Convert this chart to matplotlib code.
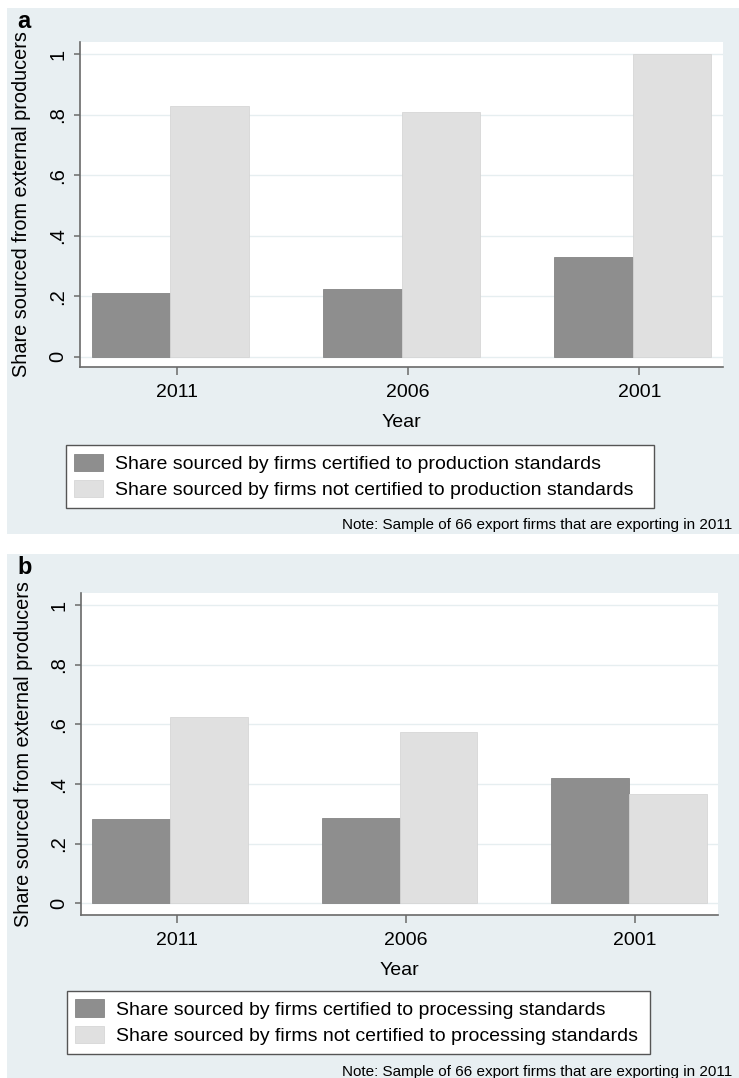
import matplotlib
matplotlib.use("Agg")
import matplotlib.pyplot as plt
import matplotlib.patches as patches
import numpy as np

years = ["2011", "2006", "2001"]
prod_certified = [0.21, 0.223, 0.331]
prod_not_certified = [0.829, 0.81, 1.0]
proc_certified = [0.282, 0.288, 0.419]
proc_not_certified = [0.626, 0.575, 0.366]
y_ticks = [0, 0.2, 0.4, 0.6, 0.8, 1.0]
y_tick_labels = ["0", ".2", ".4", ".6", ".8", "1"]
note = "Note: Sample of 66 export firms that are exporting in 2011"

plt.rcParams["font.family"] = ["Liberation Sans", "DejaVu Sans"]

W, H = 739, 1078
BG = "#e8eff2"
DARK = "#8e8e8e"
LIGHT = "#e0e0e0"
AXIS = "#6a6a6a"


def fx(px):
    return px / W


def fy(py):
    return 1 - py / H


def draw_panel(fig, letter, bg_box, ax_box, ylim, cert, not_cert, kind, legend_box, note_y):
    # panel background (Stata-like light blue-grey)
    x0, y0, x1, y1 = bg_box
    fig.add_artist(patches.Rectangle((fx(x0), fy(y1)), fx(x1 - x0), (y1 - y0) / H,
                                     transform=fig.transFigure, facecolor=BG,
                                     edgecolor="none", zorder=0))
    fig.text(fx(17), fy(y0 + 20), letter, fontsize=17, fontweight="bold",
             ha="left", va="baseline")

    l, t, r, b = ax_box
    ax = fig.add_axes([fx(l), fy(b), fx(r - l), (b - t) / H])
    ax.set_facecolor("white")

    x = np.arange(len(years))
    width = 0.34
    ax.bar(x - width / 2, cert, width, color=DARK, edgecolor="#858585", linewidth=0.6,
           label=f"Share sourced by firms certified to {kind} standards", zorder=3)
    ax.bar(x + width / 2, not_cert, width, color=LIGHT, edgecolor="#d6d6d6", linewidth=0.6,
           label=f"Share sourced by firms not certified to {kind} standards", zorder=3)

    ax.set_xlim(-0.39, 2.39)
    ax.set_ylim(*ylim)
    ax.set_xticks(x + 0.028)
    ax.set_xticklabels(years, fontsize=14)
    ax.set_yticks(y_ticks)
    ax.set_yticklabels(y_tick_labels, fontsize=14.5, rotation=90, va="center")
    ax.grid(axis="y", color="#e6eef0", linewidth=1.0, zorder=0)
    ax.set_axisbelow(True)

    for side in ["top", "right"]:
        ax.spines[side].set_visible(False)
    for side in ["left", "bottom"]:
        ax.spines[side].set_color(AXIS)
        ax.spines[side].set_linewidth(1.2)
    ax.tick_params(axis="y", length=4, width=1.1, color=AXIS, pad=5)
    ax.tick_params(axis="x", length=6, width=1.1, color=AXIS, pad=6)

    ax.set_ylabel("Share sourced from external producers", fontsize=14.3)
    ax.yaxis.set_label_coords(-0.076, 0.5)
    ax.set_xlabel("Year", fontsize=14, va="center")
    ax.xaxis.set_label_coords(0.5, -0.172)

    lx0, ly0, lx1, ly1 = legend_box
    leg = fig.legend(*ax.get_legend_handles_labels(), loc="upper left",
                     bbox_to_anchor=(fx(lx0), fy(ly1), fx(lx1 - lx0), (ly1 - ly0) / H),
                     mode="expand", fontsize=14,
                     handlelength=1.45, handleheight=1.0, handletextpad=0.65,
                     labelspacing=0.35, borderpad=0.45, borderaxespad=0,
                     frameon=True, fancybox=False, framealpha=1.0)
    leg.get_frame().set_edgecolor("#555555")
    leg.get_frame().set_linewidth(1.0)

    fig.text(fx(732), fy(note_y), note, fontsize=11, ha="right", va="center")
    return ax


fig = plt.figure(figsize=(W / 100, H / 100), dpi=100)

draw_panel(fig, "a", (7, 8, 739, 534), (80, 42, 723, 367),
           (-0.034, 1.040), prod_certified, prod_not_certified, "production",
           (65.7, 445, 654, 507), 525)
draw_panel(fig, "b", (7, 554, 739, 1078), (81, 593, 718, 915),
           (-0.039, 1.041), proc_certified, proc_not_certified, "processing",
           (66.7, 990.7, 650, 1053), 1072)

fig.savefig("out.png", dpi=100)
